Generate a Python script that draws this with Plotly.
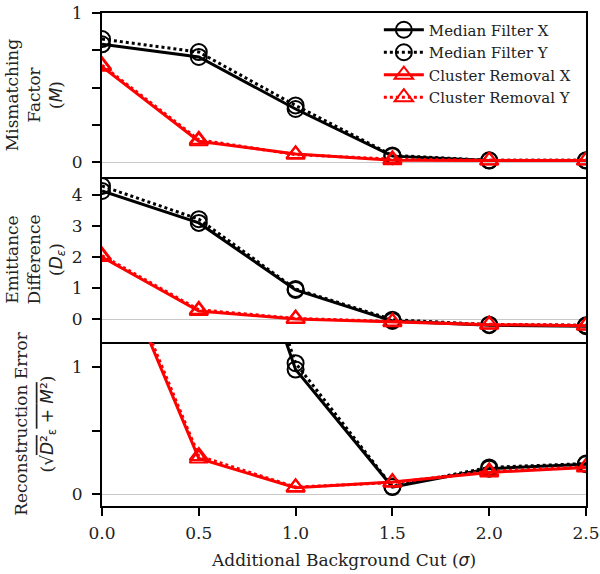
import plotly.graph_objects as go
from plotly.subplots import make_subplots

cuts = [0.0, 0.5, 1.0, 1.5, 2.0, 2.5]

# Mismatching factor M
m_mf_x = [0.79, 0.705, 0.356, 0.04, 0.01, 0.01]
m_mf_y = [0.825, 0.738, 0.38, 0.045, 0.012, 0.012]
m_cr_x = [0.64, 0.14, 0.054, 0.012, 0.01, 0.01]
m_cr_y = [0.65, 0.15, 0.05, 0.02, 0.012, 0.012]

# Emittance difference D_eps
d_mf_x = [4.13, 3.10, 0.94, -0.06, -0.20, -0.23]
d_mf_y = [4.29, 3.22, 0.97, -0.02, -0.18, -0.20]
d_cr_x = [2.00, 0.26, 0.00, -0.10, -0.18, -0.22]
d_cr_y = [2.05, 0.30, 0.02, -0.08, -0.17, -0.20]

# Reconstruction error sqrt(D^2 + M^2)
r_mf_x = [4.21, 3.18, 0.98, 0.055, 0.20, 0.235]
r_mf_y = [4.37, 3.30, 1.03, 0.06, 0.21, 0.24]
r_cr_x = [2.10, 0.28, 0.05, 0.095, 0.17, 0.21]
r_cr_y = [2.15, 0.30, 0.055, 0.09, 0.18, 0.215]

series_names = ["Median Filter X", "Median Filter Y", "Cluster Removal X", "Cluster Removal Y"]
series_colors = ["black", "black", "red", "red"]
series_dash = ["solid", "dot", "solid", "dot"]
series_symbol = ["circle-open", "circle-open", "triangle-up-open", "triangle-up-open"]

panels = [
    [m_mf_x, m_mf_y, m_cr_x, m_cr_y],
    [d_mf_x, d_mf_y, d_cr_x, d_cr_y],
    [r_mf_x, r_mf_y, r_cr_x, r_cr_y],
]

SERIF = "DejaVu Serif"
FS = 17

fig = make_subplots(rows=3, cols=1, shared_xaxes=True, vertical_spacing=0,
                    row_heights=[164, 165, 164])

for row, data in enumerate(panels, start=1):
    for k, vals in enumerate(data):
        fig.add_trace(go.Scatter(
            x=cuts, y=vals, mode="lines+markers", name=series_names[k],
            legendgroup=series_names[k], showlegend=(row == 1),
            line=dict(color=series_colors[k], width=3, dash=series_dash[k]),
            marker=dict(symbol=series_symbol[k], size=16, color=series_colors[k],
                        line=dict(width=2, color=series_colors[k])),
        ), row=row, col=1)

axis_common = dict(showline=True, linecolor="black", linewidth=2,
                   showgrid=False, ticks="outside", ticklen=8, tickwidth=2,
                   tickcolor="black", automargin=False,
                   tickfont=dict(family=SERIF, size=FS, color="#222"))

# x axes: only the bottom edge of each panel, plus the top edge of the first
fig.update_xaxes(range=[0, 2.5], mirror=False, **axis_common)
fig.update_xaxes(ticks="", showticklabels=False, mirror=True, row=1, col=1)
fig.update_xaxes(ticks="", showticklabels=False, row=2, col=1)
fig.update_xaxes(tickvals=cuts, ticktext=["0.0", "0.5", "1.0", "1.5", "2.0", "2.5"],
                 showticklabels=True, ticklabelstandoff=3,
                 title=dict(text="Additional Background Cut (<i style='font-family:DejaVu Sans'>σ</i>)",
                            font=dict(family=SERIF, size=FS, color="#222"), standoff=12),
                 row=3, col=1)

zl = dict(zeroline=True, zerolinecolor="#c8c8c8", zerolinewidth=1.2)
title_font = dict(family=SERIF, size=FS, color="#222")
ycommon = dict(mirror=True, ticklabelstandoff=6, **axis_common, **zl)

fig.update_yaxes(range=[-0.1, 1.0], tickvals=[0, 0.25, 0.5, 0.75, 1.0],
                 ticktext=["0", "", "", "", "1"], **ycommon,
                 title=dict(text="Mismatching<br>Factor<br>(<i style='font-family:DejaVu Sans'>M</i>)",
                            font=title_font, standoff=5),
                 row=1, col=1)
fig.update_yaxes(range=[-0.74, 4.58], tickvals=[0, 1, 2, 3, 4],
                 ticktext=["0", "1", "2", "3", "4"], **ycommon,
                 title=dict(text="Emittance<br>Difference<br>(<i style='font-family:DejaVu Sans'>D<sub>ε</sub></i>)",
                            font=title_font, standoff=5),
                 row=2, col=1)

# wider line spacing for the two-line title holding the radical
OL = "text-decoration:overline;font-family:DejaVu Sans;font-size:17px"
SANS17 = "font-family:DejaVu Sans;font-size:17px"
recon_title = ("<span style='font-size:17px'>Reconstruction Error</span><br>"
               "<span style='font-size:17px'>(√</span>"
               "<span style='" + OL + "'><i>D</i>²</span>"
               "<span style='" + SANS17 + "'><sub>ε</sub></span>"
               "<span style='" + OL + "'> + <i>M</i>²</span>"
               "<span style='font-size:17px'>)</span>")
fig.update_yaxes(range=[-0.094, 1.197], tickvals=[0, 0.5, 1.0],
                 ticktext=["0", "", "1"], **ycommon,
                 title=dict(text=recon_title,
                            font=dict(family=SERIF, size=20, color="#222"), standoff=13),
                 row=3, col=1)

fig.update_layout(
    width=600, height=574,
    margin=dict(l=102, r=14, t=13, b=68),
    paper_bgcolor="white", plot_bgcolor="white",
    showlegend=True,
    legend=dict(x=0.572, y=0.999, xanchor="left", yanchor="top",
                bgcolor="rgba(255,255,255,0)", borderwidth=0,
                font=dict(family=SERIF, size=15, color="#222"),
                itemwidth=40, tracegroupgap=0),
)

fig.write_html("out.html")
